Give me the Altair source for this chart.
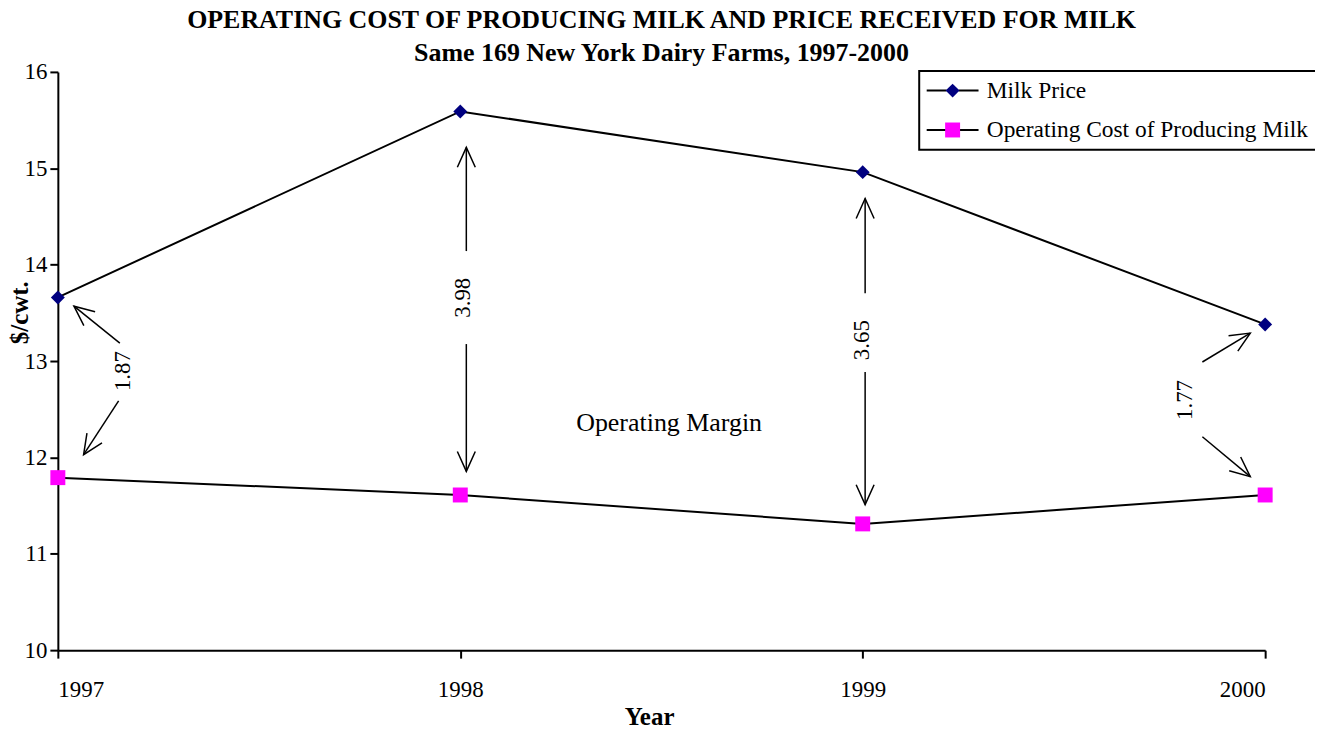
import altair as alt
import pandas as pd
import numpy as np

# ---- data ----
years = [1997, 1998, 1999, 2000]
milk_price = [13.66, 15.59, 14.96, 13.38]
operating_cost = [11.79, 11.61, 11.31, 11.61]
series_names = ["Milk Price", "Operating Cost of Producing Milk"]
series_colors = ["#000080", "#FF00FF"]
y_ticks = [10, 11, 12, 13, 14, 15, 16]

# operating-margin labels (price minus cost) and where they sit (data units)
margin_labels = ["1.87", "3.98", "3.65", "1.77"]
margin_label_x = [1997.161, 1998.007, 1998.999, 1999.802]
margin_label_y = [12.896, 13.657, 13.217, 12.596]

# annotation arrows, tail -> tip, in data units
arrow_tail_x = [1997.154, 1997.151, 1998.015, 1998.015, 1999.006, 1999.006, 1999.844, 1999.844]
arrow_tail_y = [13.186, 12.586, 14.141, 13.176, 13.703, 12.886, 12.990, 12.214]
arrow_tip_x = [1997.040, 1997.064, 1998.015, 1998.015, 1999.006, 1999.006, 1999.963, 1999.963]
arrow_tip_y = [13.569, 12.028, 15.217, 11.855, 14.686, 11.510, 13.290, 11.800]

note_text = ["Operating Margin"]
note_x = [1998.519]
note_y = [12.359]

title_lines = [
    "OPERATING COST OF PRODUCING MILK AND PRICE RECEIVED FOR MILK",
    "Same 169 New York Dairy Farms, 1997-2000",
]

# ---- layout ----
W, H = 1211, 580
FONT = "Liberation Serif"
DIAMOND = "M0,-0.7L0.7,0L0,0.7L-0.7,0Z"
SQUARE = "M-0.75,-0.75L0.75,-0.75L0.75,0.75L-0.75,0.75Z"
LINE_SYM = "M-2.6,0L-0.6,0M0.6,0L2.6,0"
ARROW_HEAD = "M-0.45,1L0,0L0.45,1"

# ---- tables ----
series_df = pd.DataFrame({
    "year": years * 2,
    "value": milk_price + operating_cost,
    "series": [series_names[0]] * 4 + [series_names[1]] * 4,
})
series_df["series_b"] = series_df["series"]

arrows = pd.DataFrame({
    "year": arrow_tail_x, "value": arrow_tail_y,
    "year2": arrow_tip_x, "value2": arrow_tip_y,
})
dx = (np.array(arrow_tip_x) - np.array(arrow_tail_x)) * W / 3.0
dy = -(np.array(arrow_tip_y) - np.array(arrow_tail_y)) * H / 6.0
arrows["ang"] = np.degrees(np.arctan2(dx, -dy)) % 360
heads = pd.DataFrame({"year": arrow_tip_x, "value": arrow_tip_y, "ang": arrows["ang"]})

labels_df = pd.DataFrame({"year": margin_label_x, "value": margin_label_y, "label": margin_labels})
note_df = pd.DataFrame({"year": note_x, "value": note_y, "label": note_text})

x_enc = alt.X(
    "year:Q",
    scale=alt.Scale(domain=[1997, 2000], nice=False, zero=False),
    axis=alt.Axis(
        values=years, format="d", title="Year", grid=False,
        labelPadding=20, titleX=593, titleY=75, titleBaseline="alphabetic",
        titleAlign="center", titleAngle=0,
    ),
)
y_enc = alt.Y(
    "value:Q",
    scale=alt.Scale(domain=[10, 16], nice=False, zero=False),
    axis=alt.Axis(
        values=y_ticks, format="d", title="$/cwt.", grid=False, labelPadding=3,
        titleX=-38, titleY=241, titleAngle=270, titleBaseline="middle",
        titleAlign="center",
    ),
)

legend_common = dict(
    orient="none", legendX=864, legendY=-1, title=None, padding=8,
    symbolSize=400, symbolOffset=13.75, labelOffset=22.5, rowPadding=14.5,
    labelFont=FONT, labelFontSize=23.5, labelLimit=600,
)

legend_a = alt.Legend(
    symbolType=LINE_SYM, symbolStrokeWidth=2, symbolStrokeColor="black",
    labelColor="black", strokeColor="black", fillColor="white", zindex=1,
    **legend_common,
)
legend_b = alt.Legend(
    symbolStrokeWidth=0, labelColor="transparent", zindex=2,
    **legend_common,
)

lines = alt.Chart(series_df).mark_line(strokeWidth=2).encode(
    x=x_enc, y=y_enc,
    stroke=alt.Stroke("series:N", scale=alt.Scale(range=["black", "black"]),
                      legend=legend_a),
)

arrow_lines = alt.Chart(arrows).mark_rule(strokeWidth=1.5, color="black").encode(
    x="year:Q", y="value:Q", x2="year2:Q", y2="value2:Q",
)

arrow_heads = alt.Chart(heads).mark_point(
    shape=ARROW_HEAD, size=1600, filled=False, strokeWidth=1.5, color="black", opacity=1,
).encode(
    x="year:Q", y="value:Q", angle=alt.Angle("ang:Q", scale=None),
)

points = alt.Chart(series_df).mark_point(filled=True, size=400, opacity=1, strokeWidth=0).encode(
    x="year:Q", y="value:Q",
    fill=alt.Fill("series_b:N", scale=alt.Scale(domain=series_names, range=series_colors),
                  legend=legend_b),
    shape=alt.Shape("series_b:N", scale=alt.Scale(domain=series_names, range=[DIAMOND, SQUARE]),
                    legend=legend_b),
)

margin_text = alt.Chart(labels_df).mark_text(
    angle=270, font=FONT, fontSize=23, color="black", align="center", baseline="middle",
).encode(x="year:Q", y="value:Q", text="label:N")

note = alt.Chart(note_df).mark_text(
    font=FONT, fontSize=26, color="black", align="center", baseline="middle",
).encode(x="year:Q", y="value:Q", text="label:N")

chart = alt.layer(lines, arrow_lines, arrow_heads, points, margin_text, note).properties(
    width=W, height=H,
    background="white",
    autosize=alt.AutoSizeParams(type="none"),
    padding={"left": 50, "top": 63, "right": 50, "bottom": 81},
    title=alt.TitleParams(
        text=title_lines, font=FONT, fontSize=26, fontWeight="bold", color="black",
        lineHeight=33, anchor="middle", offset=-5,
    ),
).configure_view(stroke=None).configure_axis(
    domainColor="black", domainWidth=2, tickColor="black", tickWidth=2, tickSize=8,
    labelFont=FONT, labelFontSize=23, labelColor="black",
    titleFont=FONT, titleFontSize=25, titleFontWeight="bold", titleColor="black",
).configure_legend(strokeWidth=2)

chart.save("out.html", embed_options={"renderer": "svg", "actions": False})
